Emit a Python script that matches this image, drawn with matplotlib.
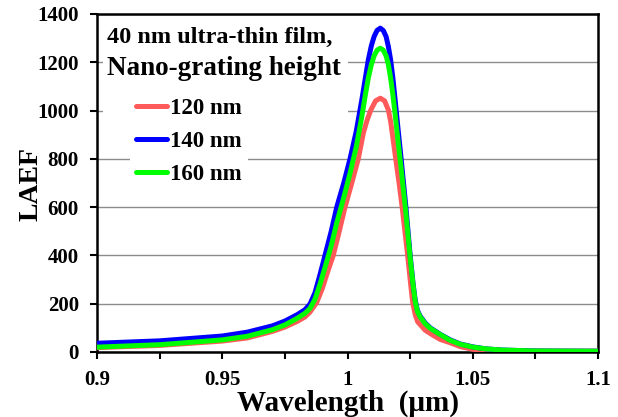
import matplotlib
matplotlib.use("Agg")
import matplotlib.pyplot as plt
from matplotlib.patches import Rectangle
from matplotlib.ticker import MultipleLocator, FuncFormatter

plt.rcParams["font.family"] = ["Liberation Serif", "DejaVu Serif"]
plt.rcParams["font.weight"] = "bold"

# LAEF spectra (wavelength in um)
wl_120 = [0.900, 0.925, 0.950, 0.960, 0.970, 0.975, 0.980, 0.983, 0.985, 0.9877,
          0.990, 0.992, 0.9943, 0.9967, 0.999, 1.0017, 1.0043, 1.0063, 1.0078,
          1.0093, 1.0112, 1.0131, 1.0148, 1.0163, 1.0172, 1.018, 1.0195, 1.0207,
          1.0218, 1.024, 1.0252, 1.026, 1.027, 1.028, 1.031, 1.034, 1.037, 1.041,
          1.045, 1.050, 1.055, 1.062, 1.075, 1.100]
laef_120 = [18, 27, 45, 58, 85, 103, 127, 145, 165, 205,
            265, 330, 400, 500, 600, 700, 800, 906, 960,
            1002, 1040, 1051, 1040, 1002, 955, 895, 780, 690,
            600, 400, 280, 205, 155, 125, 90, 70, 52, 38,
            22, 11, 6, 4, 3, 3]

wl_140 = [0.900, 0.925, 0.950, 0.960, 0.970, 0.975, 0.980, 0.983, 0.985, 0.987,
          0.989, 0.991, 0.9935, 0.9957, 0.9985, 1.001, 1.0035, 1.0057, 1.0072,
          1.0083, 1.0095, 1.0106, 1.0118, 1.0131, 1.0143, 1.0154, 1.0163, 1.0172,
          1.0181, 1.019, 1.0202, 1.0214, 1.0233, 1.025, 1.0262, 1.027, 1.0279,
          1.029, 1.031, 1.033, 1.037, 1.041, 1.045, 1.050, 1.055, 1.0615, 1.075,
          1.100]
laef_140 = [36, 46, 66, 82, 108, 128, 155, 175, 198, 245,
            320, 400, 500, 600, 700, 800, 915, 1044, 1140,
            1210, 1268, 1306, 1332, 1341, 1331, 1306, 1265, 1210,
            1135, 1044, 920, 800, 600, 400, 280, 215, 172,
            148, 120, 100, 73, 50, 33, 21, 13, 8, 4,
            3]

wl_160 = wl_140
laef_160 = [20, 30, 50, 65, 92, 112, 140, 160, 180, 218,
            280, 350, 440, 535, 640, 740, 850, 975, 1070,
            1135, 1190, 1226, 1250, 1258, 1250, 1226, 1190, 1135,
            1065, 985, 870, 760, 575, 390, 275, 210, 168,
            145, 117, 98, 72, 48, 32, 20, 13, 8, 4,
            3]

series = [
    ("120 nm", wl_120, laef_120, "#ff5a5a"),
    ("140 nm", wl_140, laef_140, "#0000ff"),
    ("160 nm", wl_160, laef_160, "#00ff00"),
]

fig = plt.figure(figsize=(6.18, 4.17), dpi=100)
ax = fig.add_axes([0.157, 0.156, 0.8107, 0.8106])

for label, x, y, color in series:
    ax.plot(x, y, color=color, lw=3.6, label=label,
            solid_joinstyle="round", solid_capstyle="round", zorder=3)

ax.set_xlim(0.9, 1.1)
ax.set_ylim(0, 1400)
ax.xaxis.set_major_locator(MultipleLocator(0.05))
ax.xaxis.set_minor_locator(MultipleLocator(0.025))
ax.yaxis.set_major_locator(MultipleLocator(200))
ax.xaxis.set_major_formatter(FuncFormatter(lambda v, p: f"{v:g}"))
ax.grid(axis="y", color="#8c8c8c", lw=1.0, zorder=0)
ax.set_axisbelow(True)

for s in ax.spines.values():
    s.set_linewidth(1.8)
    s.set_color("black")
ax.tick_params(axis="both", which="both", direction="out", length=5, width=1.5,
               labelsize=15)
ax.tick_params(axis="x", pad=8)
ax.tick_params(axis="y", pad=8)

ax.set_xlabel("Wavelength  (\u03bcm)", fontsize=21, fontweight="bold", labelpad=0)
ax.set_ylabel("LAEF", fontsize=20, fontweight="bold", va="center")
ax.yaxis.set_label_coords(-0.132, 0.497)

# white box behind the annotation
ax.add_patch(Rectangle((0.012, 0.66), 0.488, 0.33, transform=ax.transAxes,
                       facecolor="white", edgecolor="none", zorder=1))
ax.text(0.02, 0.93, "40 nm ultra-thin film,", transform=ax.transAxes,
        fontsize=17.5, fontweight="bold", va="center", ha="left", zorder=4)
ax.text(0.02, 0.838, "Nano-grating height", transform=ax.transAxes,
        fontsize=19.5, fontweight="bold", va="center", ha="left", zorder=4)

leg = ax.legend(loc="upper left", bbox_to_anchor=(0.066, 0.768), fontsize=16.5,
                handlelength=1.35, handletextpad=0.15, labelspacing=0.52,
                borderpad=0.25, borderaxespad=0, frameon=True, fancybox=False)
leg.get_frame().set_facecolor("white")
leg.get_frame().set_edgecolor("none")
leg.get_frame().set_alpha(1)
for line in leg.get_lines():
    line.set_linewidth(3.6)

fig.savefig("out.png", dpi=100)
